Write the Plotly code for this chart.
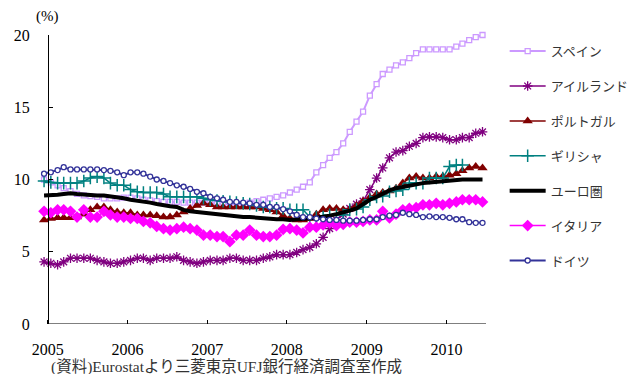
import pandas as pd
import plotly.graph_objects as go

# Monthly observations, Dec 2004 - Jun 2010 (plotted mid-month)
months = pd.date_range("2004-12-01", periods=67, freq="MS") + pd.Timedelta(days=14)

spain = [10.0, 9.8, 9.6, 9.4, 9.2, 9.0, 8.9, 8.85, 8.8, 8.7, 8.7, 8.7,
         8.75, 8.75, 8.7, 8.6, 8.55, 8.5, 8.45, 8.45, 8.45, 8.4, 8.4, 8.4,
         8.4, 8.4, 8.3, 8.3, 8.3, 8.3, 8.3, 8.4, 8.5, 8.6, 8.7, 8.8,
         8.9, 9.1, 9.3, 9.5, 9.8, 10.5, 11.0, 11.5, 11.9, 12.5, 13.3, 14.0,
         14.7, 15.8, 16.6, 17.3, 17.6, 17.9, 18.1, 18.4, 18.75, 19.0, 19.0, 19.0,
         19.0, 19.0, 19.2, 19.4, 19.65, 19.85, 20.0]
ireland = [4.3, 4.2, 4.1, 4.3, 4.55, 4.55, 4.55, 4.55, 4.4, 4.3, 4.2, 4.2,
           4.3, 4.4, 4.55, 4.55, 4.4, 4.55, 4.55, 4.55, 4.65, 4.4, 4.3, 4.2,
           4.3, 4.4, 4.4, 4.4, 4.55, 4.55, 4.4, 4.4, 4.4, 4.55, 4.65, 4.8,
           4.8, 4.8, 4.95, 5.15, 5.3, 5.55, 6.0, 6.6, 7.2, 7.6, 8.0, 8.3,
           8.5, 9.3, 10.1, 10.8, 11.5, 11.9, 12.0, 12.3, 12.5, 12.9, 12.95, 12.95,
           12.9, 12.75, 12.75, 12.9, 12.9, 13.2, 13.3]
portugal = [7.2, 7.3, 7.35, 7.35, 7.35, 7.4, 7.6, 7.9, 8.1, 8.1, 7.9, 7.75,
            7.7, 7.7, 7.55, 7.55, 7.55, 7.5, 7.4, 7.4, 7.55, 7.75, 8.0, 8.2,
            8.35, 8.25, 8.1, 8.1, 8.1, 8.1, 8.1, 8.1, 8.1, 8.0, 7.9, 7.75,
            7.5, 7.3, 7.2, 7.2, 7.3, 7.6, 7.9, 8.0, 8.0, 7.9, 7.95, 8.2,
            8.5, 8.75, 9.0, 9.1, 9.2, 9.4, 9.75, 10.1, 10.2, 10.1, 10.1, 10.2,
            10.2, 10.3, 10.4, 10.6, 10.8, 10.9, 10.8]
greece = [9.9, 9.8, 9.75, 9.75, 9.75, 9.75, 9.9, 10.1, 10.2, 10.1, 9.75, 9.6,
          9.6, 9.3, 9.15, 9.1, 9.1, 9.1, 9.0, 8.8, 8.8, 8.8, 8.8, 8.8,
          8.7, 8.6, 8.55, 8.5, 8.45, 8.4, 8.35, 8.3, 8.2, 8.1, 8.1, 8.0,
          8.0, 7.9, 7.9, 7.9, 7.4, 7.4, 7.4, 7.55, 7.55, 7.55, 7.9, 7.95,
          8.1, 8.6, 8.8, 8.85, 9.15, 9.2, 9.3, 9.75, 9.75, 9.75, 10.1, 10.1,
          10.1, 10.9, 11.0, 11.0, None, None, None]
euro_area = [8.9, 8.9, 8.95, 9.0, 9.05, 9.0, 8.95, 8.9, 8.9, 8.9, 8.85, 8.8,
             8.7, 8.6, 8.55, 8.5, 8.4, 8.3, 8.2, 8.15, 8.1, 7.9, 7.8, 7.75,
             7.7, 7.6, 7.55, 7.5, 7.45, 7.45, 7.4, 7.4, 7.35, 7.3, 7.3, 7.25,
             7.25, 7.2, 7.25, 7.25, 7.3, 7.35, 7.4, 7.5, 7.6, 7.7, 7.85, 8.0,
             8.3, 8.6, 8.8, 9.05, 9.25, 9.4, 9.5, 9.6, 9.7, 9.75, 9.8, 9.85,
             9.9, 9.9, 9.95, 10.0, 10.0, 10.0, 10.0]
italy = [7.8, 7.7, 7.9, 7.9, 7.8, 7.4, 7.9, 7.4, 7.4, 7.8, 7.55, 7.4,
         7.4, 7.3, 7.3, 7.1, 7.0, 6.75, 6.6, 6.5, 6.6, 6.7, 6.6, 6.5,
         6.15, 6.15, 6.05, 6.05, 5.7, 6.15, 6.15, 6.5, 6.15, 6.05, 6.05, 6.15,
         6.55, 6.6, 6.5, 6.3, 6.7, 6.7, 6.85, 7.0, 6.8, 6.9, 7.05, 7.05,
         7.1, 7.2, 7.2, 7.8, 7.35, 7.6, 7.9, 8.0, 8.05, 8.25, 8.25, 8.35,
         8.25, 8.35, 8.45, 8.6, 8.6, 8.6, 8.45]
germany = [10.4, 10.5, 10.65, 10.85, 10.7, 10.7, 10.7, 10.7, 10.7, 10.65, 10.6, 10.5,
           10.3, 10.5, 10.5, 10.4, 10.2, 10.0, 9.9, 9.75, 9.6, 9.5, 9.35, 9.15,
           9.05, 8.8, 8.7, 8.6, 8.45, 8.45, 8.4, 8.35, 8.25, 8.25, 8.1, 8.1,
           7.95, 7.8, 7.55, 7.4, 7.4, 7.3, 7.25, 7.2, 7.2, 7.15, 7.15, 7.15,
           7.2, 7.25, 7.25, 7.4, 7.5, 7.55, 7.7, 7.6, 7.55, 7.4, 7.45, 7.4,
           7.4, 7.35, 7.25, 7.25, 7.05, 7.0, 7.0]

year_ticks = ["2005", "2006", "2007", "2008", "2009", "2010"]
y_ticks = [0, 5, 10, 15, 20]

SERIF = "Liberation Serif, Times New Roman, serif"
JP = "Noto Sans CJK JP, sans-serif"

series = [
    ("スペイン", spain, dict(color="#CC99FF", width=2),
     dict(symbol="square", size=5, color="white", line=dict(color="#CC99FF", width=1.3))),
    ("アイルランド", ireland, dict(color="#800080", width=1.5),
     dict(symbol="asterisk-open", size=8, line=dict(color="#800080", width=1.3))),
    ("ポルトガル", portugal, dict(color="#800000", width=1.5),
     dict(symbol="triangle-up", size=9, color="#800000")),
    ("ギリシャ", greece, dict(color="#008080", width=1.5),
     dict(symbol="cross-thin-open", size=9, line=dict(color="#008080", width=1.5))),
    ("ユーロ圏", euro_area, dict(color="#000000", width=4), None),
    ("イタリア", italy, dict(color="#FF00FF", width=1.5),
     dict(symbol="diamond", size=9, color="#FF00FF")),
    ("ドイツ", germany, dict(color="#333399", width=2),
     dict(symbol="circle", size=5, color="white", line=dict(color="#333399", width=1.3))),
]

fig = go.Figure()
for name, values, line, marker in series:
    fig.add_trace(go.Scatter(
        x=months, y=values, name=name, legendgroup=name,
        mode="lines" if marker is None else "lines+markers",
        line=line, marker=marker, cliponaxis=False, connectgaps=False,
    ))

x_start, x_end = "2004-12-01", "2010-07-01"
L, R, T, B = 41, 153, 35, 50
plot_w = 639 - L - R
plot_h = 374 - T - B

# x-axis baseline drawn from the first year tick to the end of the axis
fig.add_shape(type="line", xref="x", yref="y", x0="2005-01-01", x1=x_end, y0=0, y1=0,
              line=dict(color="black", width=1.2))

fig.update_layout(
    width=639, height=374,
    margin=dict(l=L, r=R, t=T, b=B, autoexpand=False),
    paper_bgcolor="white", plot_bgcolor="white",
    showlegend=True,
    legend=dict(
        x=(510 - L) / plot_w - 0.012, y=0.996,
        xanchor="left", yanchor="top",
        font=dict(family=JP, size=13, color="#333333"),
        tracegroupgap=15, itemwidth=36, bgcolor="rgba(0,0,0,0)",
        maxheight=360,
    ),
    xaxis=dict(
        type="date", range=[x_start, x_end],
        tickvals=[f"{y}-01-01" for y in year_ticks], ticktext=year_ticks,
        ticks="inside", ticklen=4, tickcolor="black", tickwidth=1,
        showline=False, showgrid=False, zeroline=False,
        tickfont=dict(family=SERIF, size=16, color="black"),
        ticklabelstandoff=14,
    ),
    yaxis=dict(
        range=[0, 20], tickvals=y_ticks,
        anchor="free", position=(48 - L) / plot_w,
        ticks="inside", ticklen=4, tickcolor="black", tickwidth=1,
        showline=True, linecolor="black", linewidth=1.2,
        showgrid=False, zeroline=False,
        tickfont=dict(family=SERIF, size=16, color="black"),
        ticklabelstandoff=15,
    ),
    annotations=[
        dict(text="(%)", xref="paper", yref="paper", x=(47 - L) / plot_w, y=(324 - 17) / plot_h,
             xanchor="center", yanchor="middle", showarrow=False,
             font=dict(family=SERIF, size=15, color="black")),
        dict(text="(資料)Eurostatより三菱東京UFJ銀行経済調査室作成", xref="paper", yref="paper",
             x=(49 - L) / plot_w, y=(324 - 367) / plot_h, xanchor="left", yanchor="middle",
             showarrow=False, font=dict(family="Liberation Serif, Noto Sans CJK JP", size=15.5, color="#333333")),
    ],
)

fig.write_html("out.html")
